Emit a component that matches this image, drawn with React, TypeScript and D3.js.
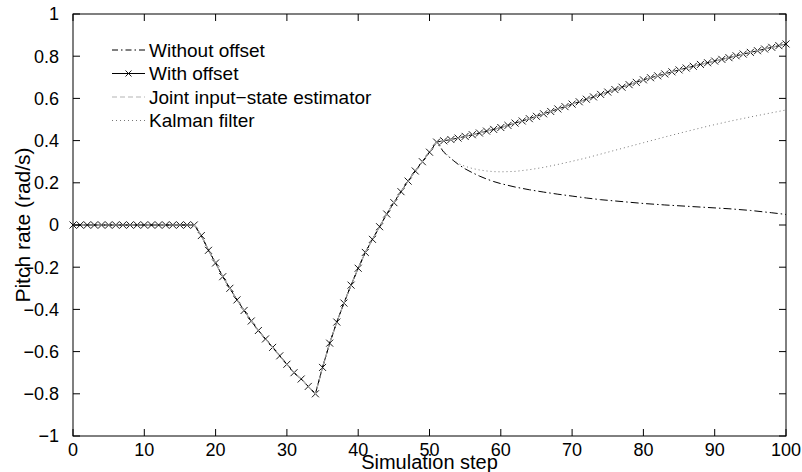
import React from "react";
import * as d3 from "d3";

const yTicks = [-1, -0.8, -0.6, -0.4, -0.2, 0, 0.2, 0.4, 0.6, 0.8, 1];
const xTicks = [0, 10, 20, 30, 40, 50, 60, 70, 80, 90, 100];

// With offset: one value per simulation step 0..100
const withOffset = [
  0, 0, 0, 0, 0, 0, 0, 0, 0, 0, 0, 0, 0, 0, 0, 0, 0, 0,
  -0.05, -0.12, -0.18, -0.245, -0.3, -0.355, -0.405, -0.455, -0.5, -0.54, -0.58, -0.62, -0.66, -0.7, -0.73, -0.765, -0.8,
  -0.675, -0.56, -0.46, -0.37, -0.285, -0.205, -0.13, -0.068, -0.008, 0.052, 0.106, 0.158, 0.208, 0.256, 0.3, 0.345, 0.393,
  0.399, 0.405, 0.412, 0.42, 0.428, 0.436, 0.445, 0.453, 0.462, 0.472, 0.483, 0.493, 0.504, 0.515, 0.527, 0.538, 0.55, 0.561,
  0.573, 0.584, 0.596, 0.607, 0.619, 0.63, 0.642, 0.653, 0.665, 0.676, 0.688, 0.698, 0.707, 0.716, 0.726, 0.735, 0.744, 0.752,
  0.761, 0.769, 0.777, 0.785, 0.793, 0.802, 0.81, 0.818, 0.826, 0.834, 0.842, 0.85, 0.858,
];
// Joint input-state estimator coincides with the "with offset" curve
const jointEstimator = [...withOffset];

// After step 51 the other two curves diverge
const tailSteps = [51, 52, 53, 54, 55, 56, 57, 58, 59, 60, 62, 64, 66, 68, 70, 72, 74, 76, 78, 80, 83, 86, 89, 92, 95, 98, 100];
const withoutOffsetTail = [0.393, 0.345, 0.315, 0.288, 0.266, 0.248, 0.232, 0.218, 0.206, 0.196, 0.18, 0.167, 0.156, 0.146, 0.137, 0.128, 0.12, 0.114, 0.108, 0.102, 0.095, 0.089, 0.083, 0.077, 0.069, 0.058, 0.05];
const kalmanTail = [0.393, 0.35, 0.315, 0.292, 0.278, 0.268, 0.261, 0.256, 0.253, 0.252, 0.254, 0.262, 0.273, 0.287, 0.302, 0.318, 0.336, 0.354, 0.372, 0.39, 0.417, 0.443, 0.468, 0.491, 0.512, 0.532, 0.545];

const legendLabels = ["Without offset", "With offset", "Joint input\u2212state estimator", "Kalman filter"];

const W = 802, H = 472;
const L = 73, R = 786, T = 14, B = 436;
const FONT = "'Liberation Sans', Arial, Helvetica, sans-serif";

type P = [number, number];

export default function App() {
  const x = d3.scaleLinear().domain([0, 100]).range([L, R]);
  const y = d3.scaleLinear().domain([-1, 1]).range([B, T]);
  const line = d3.line<P>().x((d) => x(d[0])).y((d) => y(d[1]));

  const withPts: P[] = withOffset.map((v, i) => [i, v]);
  const jointPts: P[] = jointEstimator.map((v, i) => [i, v]);
  const head: P[] = withPts.slice(0, 51);
  const withoutPts: P[] = head.concat(tailSteps.map((s, i) => [s, withoutOffsetTail[i]] as P));
  const kalmanPts: P[] = head.concat(tailSteps.map((s, i) => [s, kalmanTail[i]] as P));

  const cross = (cx: number, cy: number, k: string | number, s = 3.5) => (
    <path key={k} d={`M${cx - s},${cy - s}L${cx + s},${cy + s}M${cx - s},${cy + s}L${cx + s},${cy - s}`} stroke="#000" strokeWidth={0.9} fill="none" />
  );

  const fmt = (v: number) => {
    const s = String(Math.round(v * 10) / 10);
    return s.replace("-", "\u2212");
  };

  const legY = [50, 73.5, 97, 120.5];
  const lx0 = 112, lx1 = 145;

  return (
    <svg width={W} height={H} style={{ position: "absolute", left: 0, top: 0, background: "#fff" }} fontFamily={FONT}>
      <rect x={0} y={0} width={W} height={H} fill="#fff" />
      {/* curves */}
      <path d={line(withoutPts) || ""} fill="none" stroke="#000" strokeWidth={1} strokeDasharray="8,3,1.5,3" />
      <path d={line(withPts) || ""} fill="none" stroke="#000" strokeWidth={1} />
      {withPts.map((d, i) => cross(x(d[0]), y(d[1]), "m" + i))}
      <path d={line(jointPts) || ""} fill="none" stroke="#b4b4b4" strokeWidth={1.2} strokeDasharray="5,3" />
      <path d={line(kalmanPts) || ""} fill="none" stroke="#777" strokeWidth={1} strokeDasharray="1,3" />

      {/* axes box */}
      <rect x={L} y={T} width={R - L} height={B - T} fill="none" stroke="#000" strokeWidth={1} />
      {yTicks.map((t) => (
        <g key={"y" + t}>
          <line x1={L} x2={L + 7} y1={y(t)} y2={y(t)} stroke="#000" />
          <line x1={R} x2={R - 7} y1={y(t)} y2={y(t)} stroke="#000" />
          <text x={L - 14} y={y(t)} dy="0.35em" textAnchor="end" fontSize={18}>{fmt(t)}</text>
        </g>
      ))}
      {xTicks.map((t) => (
        <g key={"x" + t}>
          <line x1={x(t)} x2={x(t)} y1={B} y2={B - 7} stroke="#000" />
          <line x1={x(t)} x2={x(t)} y1={T} y2={T + 7} stroke="#000" />
          <text x={x(t)} y={456} textAnchor="middle" fontSize={18}>{t}</text>
        </g>
      ))}
      <text x={(L + R) / 2} y={469} textAnchor="middle" fontSize={20}>Simulation step</text>
      <text transform={`translate(30,${(T + B) / 2}) rotate(-90)`} textAnchor="middle" fontSize={21}>Pitch rate (rad/s)</text>

      {/* legend */}
      <line x1={lx0} x2={lx1} y1={legY[0]} y2={legY[0]} stroke="#000" strokeDasharray="6,3,1.5,3" />
      <line x1={lx0} x2={lx1} y1={legY[1]} y2={legY[1]} stroke="#000" />
      {cross((lx0 + lx1) / 2, legY[1], "lc", 3)}
      <line x1={lx0} x2={lx1} y1={legY[2]} y2={legY[2]} stroke="#b4b4b4" strokeWidth={1.2} strokeDasharray="5,3" />
      <line x1={lx0} x2={lx1} y1={legY[3]} y2={legY[3]} stroke="#777" strokeDasharray="1,3" />
      {legendLabels.map((s, i) => (
        <text key={s} x={149} y={legY[i]} dy="0.35em" fontSize={19}>{s}</text>
      ))}
    </svg>
  );
}
